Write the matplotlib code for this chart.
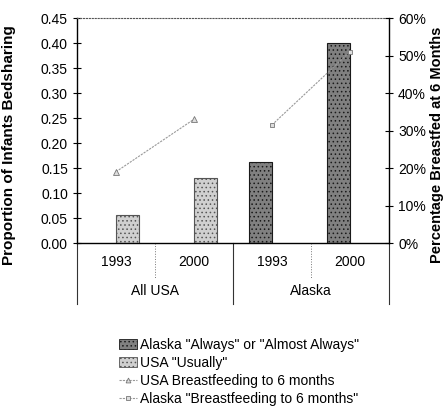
import numpy as np
import matplotlib.pyplot as plt
from matplotlib.lines import Line2D
from matplotlib.patches import Patch

plt.rcParams['font.family'] = ['Liberation Sans', 'DejaVu Sans']
plt.rcParams['hatch.linewidth'] = 0.6

# data
years = ['1993', '2000', '1993', '2000']
groups = ['All USA', 'Alaska']
alaska_always = [np.nan, np.nan, 0.162, 0.40]
usa_usually = [0.057, 0.13, np.nan, np.nan]
usa_bf = [19, 33]        # % breastfed at 6 months, USA 1993/2000
alaska_bf = [31.5, 51]   # % breastfed at 6 months, Alaska 1993/2000

x = np.arange(len(years))
w = 0.29

fig = plt.figure(figsize=(4.46, 4.13), dpi=100)
ax = fig.add_axes([0.1726, 0.4116, 0.6996, 0.5448])

ax.bar(x - w / 2, alaska_always, w, color='#808080', edgecolor='#1a1a1a',
       hatch='....', linewidth=0.8)
ax.bar(x + w / 2, usa_usually, w, color='#d0d0d0', edgecolor='#555555',
       hatch='....', linewidth=0.8)

ax.set_xlim(-0.5, 3.5)
ax.set_ylim(0, 0.45)
ax.set_yticks(np.arange(0, 0.451, 0.05))
ax.set_yticklabels([f'{v:.2f}' for v in np.arange(0, 0.451, 0.05)])
ax.set_xticks([])
ax.tick_params(axis='y', direction='inout', length=6, width=0.8, labelsize=10)
ax.set_ylabel('Proportion of Infants Bedsharing', fontsize=11, fontweight='bold')
ax.yaxis.set_label_coords(-0.195, 0.435)

ax.spines['top'].set_linestyle(':')
ax.spines['top'].set_color('#555555')
ax.spines['left'].set_linewidth(1.0)
ax.spines['bottom'].set_linewidth(1.0)
ax.spines['right'].set_visible(False)

ax2 = ax.twinx()
ax2.set_ylim(0, 60)
ax2.set_yticks(range(0, 61, 10))
ax2.set_yticklabels([f'{v}%' for v in range(0, 61, 10)])
ax2.tick_params(axis='y', direction='inout', length=6, width=0.8, labelsize=10)
ax2.spines['right'].set_linewidth(1.0)
ax2.spines['top'].set_visible(False)
ax2.spines['left'].set_visible(False)
ax2.spines['bottom'].set_visible(False)
ax2.set_ylabel('Percentage Breastfed at 6 Months', fontsize=10.5, fontweight='bold')
ax2.yaxis.set_label_coords(1.13, 0.435)

ax2.plot(x[:2], usa_bf, color='#999999', lw=0.8, ls=(0, (2, 1)), marker='^',
         ms=4, mfc='#dddddd', mec='#777777', mew=0.6)
ax2.plot(x[2:], alaska_bf, color='#999999', lw=0.8, ls=(0, (2, 1)), marker='s',
         ms=3.5, mfc='#dddddd', mec='#777777', mew=0.6)

# multi-level category axis
trans = ax.get_xaxis_transform()
for xi, lab in zip(x, years):
    ax.text(xi, -0.085, lab, transform=trans, ha='center', va='center', fontsize=10)
for gi, lab in enumerate(groups):
    ax.text(gi * 2 + 0.5, -0.215, lab, transform=trans, ha='center', va='center',
            fontsize=10)
for xs in [0.5, 2.5]:
    ax.plot([xs, xs], [0, -0.16], transform=trans, color='#777777', lw=0.7,
            ls=':', clip_on=False)
for xs in [-0.5, 1.5, 3.5]:
    ax.plot([xs, xs], [0, -0.27], transform=trans, color='#333333', lw=0.8,
            clip_on=False)

handles = [
    Patch(facecolor='#808080', edgecolor='#1a1a1a', hatch='....', linewidth=0.6),
    Patch(facecolor='#d0d0d0', edgecolor='#555555', hatch='....', linewidth=0.6),
    Line2D([], [], color='#999999', lw=0.8, ls=(0, (2, 1)), marker='^', ms=3.5,
           mfc='#dddddd', mec='#777777', mew=0.6),
    Line2D([], [], color='#999999', lw=0.8, ls=(0, (2, 1)), marker='s', ms=3,
           mfc='#dddddd', mec='#777777', mew=0.6),
]
labels = ['Alaska "Always" or "Almost Always"', 'USA "Usually"',
          'USA Breastfeeding to 6 months', 'Alaska "Breastfeeding to 6 months"']
fig.legend(handles, labels, loc='upper left', bbox_to_anchor=(0.255, 0.195),
           frameon=False, fontsize=10, handlelength=1.3, handleheight=0.7,
           handletextpad=0.2, labelspacing=0.28, borderaxespad=0)

fig.savefig('out.png', dpi=100)
